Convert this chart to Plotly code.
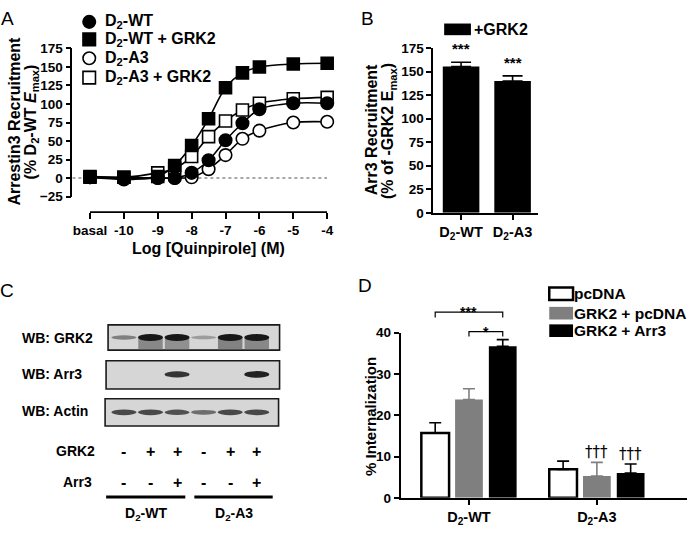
import plotly.graph_objects as go

W, H = 700, 536
def px(x): return x / W
def py(y): return 1 - y / H

FONT = "Liberation Sans, Arial, Helvetica, sans-serif"

# ---------------- Panel A data ----------------
conc_tickvals = [-11, -10, -9, -8, -7, -6, -5, -4]
conc_ticktext = ["basal", "-10", "-9", "-8", "-7", "-6", "-5", "-4"]
log_conc = [-11, -10, -9, -8.5, -8, -7.5, -7, -6.5, -6, -5, -4]
wt = [1, -2, 0, 0, 7, 24, 51, 74, 93, 101, 101]
wt_grk2 = [2, 1, 2, 17, 44, 80, 122, 142, 150, 154, 155]
a3 = [1, -1, 0, 0, 1, 12, 31, 53, 64, 75, 76]
a3_grk2 = [1, 1, 7, 13, 29, 56, 77, 92, 101, 107, 109]
a_names = ["D<sub>2</sub>-WT", "D<sub>2</sub>-WT + GRK2", "D<sub>2</sub>-A3", "D<sub>2</sub>-A3 + GRK2"]
a_ticks = [-25, 0, 25, 50, 75, 100, 125, 150, 175]

# ---------------- Panel B data ----------------
b_cats = ["D<sub>2</sub>-WT", "D<sub>2</sub>-A3"]
b_vals = [155.5, 140]
b_errs = [4.5, 5.5]
b_sig = ["***", "***"]
b_ticks = [0, 25, 50, 75, 100, 125, 150, 175]

# ---------------- Panel C data ----------------
lanes = [0, 1, 2, 3, 4, 5]
grk2_sign = ["-", "+", "+", "-", "+", "+"]
arr3_sign = ["-", "-", "+", "-", "-", "+"]
grk2_band = [0.45, 1.0, 1.0, 0.3, 1.0, 1.0]
grk2_smear = [0.0, 0.6, 0.55, 0.0, 0.65, 0.6]
arr3_band = [0.0, 0.0, 0.85, 0.0, 0.0, 0.95]
actin_band = [0.75, 0.75, 0.7, 0.55, 0.75, 0.75]
blot_labels = ["WB: GRK2", "WB: Arr3", "WB: Actin"]
group_labels = ["D<sub>2</sub>-WT", "D<sub>2</sub>-A3"]

# ---------------- Panel D data ----------------
d_cats = ["D<sub>2</sub>-WT", "D<sub>2</sub>-A3"]
d_names = ["pcDNA", "GRK2 + pcDNA", "GRK2 + Arr3"]
pcdna = [15.7, 6.9]
pcdna_err = [2.5, 2.0]
grk2_pcdna = [23.8, 5.3]
grk2_pcdna_err = [2.6, 3.3]
grk2_arr3 = [36.7, 6.0]
grk2_arr3_err = [1.6, 2.2]
d_daggers = ["", "†††"]
d_ticks = [0, 10, 20, 30, 40]

fig = go.Figure()

# ---- Panel A curves + markers
a_series = [
    (a3_grk2, "square", "white", 3),
    (wt_grk2, "square", "black", 1),
    (a3, "circle", "white", 2),
    (wt, "circle", "black", 0),
]
for vals, sym, fill, idx in a_series:
    fig.add_trace(go.Scatter(x=log_conc, y=vals, mode="lines",
                             line=dict(color="black", width=1.6, shape="spline", smoothing=0.9),
                             xaxis="x", yaxis="y", hoverinfo="skip"))
for vals, sym, fill, idx in a_series:
    fig.add_trace(go.Scatter(x=log_conc, y=vals, mode="markers", name=a_names[idx],
                             marker=dict(symbol=sym, size=12 if sym == "square" else 12.5, color=fill,
                                         line=dict(color="black", width=1.6)),
                             xaxis="x", yaxis="y", cliponaxis=False))

# Panel A legend markers (overlay pixel axis)
leg_rows = [15.3, 33.3, 52.7, 72.7]
leg_style = [("circle", "black"), ("square", "black"), ("circle", "white"), ("square", "white")]
for (sym, fill), yy in zip(leg_style, leg_rows):
    fig.add_trace(go.Scatter(x=[90], y=[yy], mode="markers",
                             marker=dict(symbol=sym, size=12.5, color=fill, line=dict(color="black", width=1.6)),
                             xaxis="x5", yaxis="y5", hoverinfo="skip", cliponaxis=False))

# ---- Panel B bars
fig.add_trace(go.Bar(x=[0, 1], y=b_vals, width=0.71, marker=dict(color="black", line=dict(width=0)),
                     error_y=dict(type="data", array=b_errs, arrayminus=[0, 0], symmetric=False,
                                  color="black", thickness=1.6, width=10),
                     xaxis="x2", yaxis="y2"))

# ---- Panel D bars
bw = 0.217
sep = 0.264
d_series = [
    (pcdna, pcdna_err, "white", "black", 2.5, -sep),
    (grk2_pcdna, grk2_pcdna_err, "#7f7f7f", "#7f7f7f", 0, 0),
    (grk2_arr3, grk2_arr3_err, "black", "black", 0, sep),
]
for vals, errs, fill, ecol, lw, off in d_series:
    fig.add_trace(go.Bar(x=[0, 1], y=vals, width=bw, offset=off - bw / 2,
                         marker=dict(color=fill, line=dict(color="black", width=lw)),
                         error_y=dict(type="data", array=errs, arrayminus=[0, 0], symmetric=False,
                                      color=ecol, thickness=1.6, width=6),
                         xaxis="x3", yaxis="y3"))

shapes = []
annotations = []

def ann(text, x, y, size=14, xanchor="center", yanchor="middle", xref="paper", yref="paper",
        angle=0, weight="bold", yshift=0, family=FONT):
    annotations.append(dict(text=text, x=x, y=y, xref=xref, yref=yref, showarrow=False,
                            xanchor=xanchor, yanchor=yanchor, textangle=angle, yshift=yshift,
                            font=dict(family=family, size=size, color="black", weight=weight)))

# Panel letters
ann("A", px(8), py(12), size=19, weight="normal")
ann("B", px(371), py(12), size=19, weight="normal")
ann("C", px(7), py(292), size=19, weight="normal")
ann("D", px(368), py(287), size=19, weight="normal")

# ---- Panel A decorations
shapes.append(dict(type="line", xref="x", yref="paper", x0=-11, x1=-4, y0=py(211), y1=py(211),
                   line=dict(color="black", width=1.6)))
shapes.append(dict(type="line", xref="x", yref="y", x0=-11.52, x1=-4, y0=0, y1=0, layer="below",
                   line=dict(color="#8a8a8a", width=1.5, dash="dot")))
ann("Arrestin3 Recruitment", px(15), py(117), size=16, angle=-90)
ann("(% D<sub>2</sub>-WT <i>E</i><sub>max</sub>)", px(32), py(118), size=16, angle=-90)
ann("Log [Quinpirole] (M)", px(210), py(248), size=16)
for name, yy in zip(a_names, leg_rows):
    ann(name, px(104), py(yy), size=16, xanchor="left")

# ---- Panel B decorations
ann("Arr3 Recruitment", px(375), py(126), size=16, angle=-90)
ann("(% of -GRK2 E<sub>max</sub>)", px(392), py(128), size=16, angle=-90)
shapes.append(dict(type="rect", xref="paper", yref="paper", x0=px(448), x1=px(475), y0=py(29), y1=py(17),
                   fillcolor="black", line=dict(width=0)))
ann("+GRK2", px(476), py(23), size=16, xanchor="left")
for i, (v, e, s) in enumerate(zip(b_vals, b_errs, b_sig)):
    ann(s, i, v + e, size=15, xref="x2", yref="y2", yanchor="bottom", yshift=3)

# ---- Panel C (western blot drawing on lane axis x4/y4)
blot_rows = [  # (label, box x0, box x1, top, bottom, band center, label y)
    (blot_labels[0], -0.597, 5.858, 327, 353, 340, 341),
    (blot_labels[1], -0.672, 5.858, 364, 393, 378, 378),
    (blot_labels[2], -0.709, 5.82, 403, 431, 417, 416),
]
def gray(v, base=214):
    g = int(round(base - 190 * v))
    return f"rgb({g},{g},{g})"

for label, bx0, bx1, top, bot, bc, ly in blot_rows:
    shapes.append(dict(type="rect", xref="x4", yref="y4", x0=bx0, x1=bx1, y0=top, y1=bot,
                       fillcolor="rgb(214,214,214)", line=dict(color="#1a1a1a", width=1.6), layer="below"))
    ann(label, px(20), py(ly), size=14, xanchor="left")
for i, v in zip(lanes, grk2_smear):
    if v > 0:
        shapes.append(dict(type="rect", xref="x4", yref="y4", x0=i - 0.46, x1=i + 0.46, y0=341, y1=352,
                           fillcolor=gray(v * 0.75), line=dict(width=0), opacity=0.9))
for row, band in zip(blot_rows, (grk2_band, arr3_band, actin_band)):
    bc = row[5]
    for i, v in zip(lanes, band):
        if v > 0:
            h = 2.5 + 4.5 * v
            shapes.append(dict(type="circle", xref="x4", yref="y4", x0=i - 0.47, x1=i + 0.47,
                               y0=bc - h / 2, y1=bc + h / 2, fillcolor=gray(v), line=dict(width=0)))
for i, s in zip(lanes, grk2_sign):
    ann(s, i, 457, size=16, xref="x4", yref="y4")
for i, s in zip(lanes, arr3_sign):
    ann(s, i, 489, size=16, xref="x4", yref="y4")
ann("GRK2", px(98), py(457), size=14, xanchor="right")
ann("Arr3", px(95), py(489), size=14, xanchor="right")
group_lines = [(-0.67, 2.31), (2.65, 5.6)]
for (g0, g1), gl in zip(group_lines, group_labels):
    shapes.append(dict(type="line", xref="x4", yref="y4", x0=g0, x1=g1, y0=504, y1=504,
                       line=dict(color="black", width=3)))
    ann(gl, (g0 + g1) / 2, 522, size=14, xref="x4", yref="y4")

# ---- Panel D decorations
ann("% Internalization", px(373), py(421), size=15, angle=-90)
d_leg = [(295, "white", 2.5), (315, "#7f7f7f", 0), (333, "black", 0)]
for (yy, fill, lw), name in zip(d_leg, d_names):
    shapes.append(dict(type="rect", xref="paper", yref="paper", x0=px(554), x1=px(578),
                       y0=py(yy + 6.5), y1=py(yy - 6.5), fillcolor=fill,
                       line=dict(color="black", width=lw)))
    ann(name, px(577), py(yy), size=15.5, xanchor="left")
# significance brackets
shapes.append(dict(type="path", xref="x3", yref="paper",
                   path=f"M {-sep},{py(319.5)} L {-sep},{py(314)} L {sep},{py(314)} L {sep},{py(319.5)}",
                   line=dict(color="black", width=1.2)))
shapes.append(dict(type="path", xref="x3", yref="paper",
                   path=f"M 0,{py(339)} L 0,{py(334)} L {sep},{py(334)} L {sep},{py(339)}",
                   line=dict(color="black", width=1.2)))
ann("***", 0, py(314), size=14, xref="x3", yanchor="middle")
ann("*", sep / 2, py(334), size=14, xref="x3", yanchor="middle")
for off, vals, errs in ((0, grk2_pcdna, grk2_pcdna_err), (sep, grk2_arr3, grk2_arr3_err)):
    for i, d in enumerate(d_daggers):
        if d:
            ann(d, i + off, vals[i] + errs[i], size=15, xref="x3", yref="y3", yanchor="bottom",
                yshift=-1, family="DejaVu Sans", weight="normal")

axis_common = dict(showgrid=False, zeroline=False, ticks="outside", tickwidth=1.6, tickcolor="black",
                   linecolor="black", linewidth=1.6)

fig.update_layout(
    width=W, height=H, margin=dict(l=0, r=0, t=0, b=0),
    paper_bgcolor="white", plot_bgcolor="rgba(0,0,0,0)", showlegend=False,
    font=dict(family=FONT, size=13, color="black", weight="bold"),
    barmode="overlay",
    xaxis=dict(axis_common, domain=[px(73), px(330)], range=[-11.52, -4], anchor="free", position=py(211),
               showline=False, tickvals=conc_tickvals, ticktext=conc_ticktext, ticklen=6,
               tickfont=dict(size=13.5)),
    yaxis=dict(axis_common, domain=[py(195), py(42.67)], range=[-25, 175], anchor="x", showline=True,
               tickvals=a_ticks, ticklen=5, tickfont=dict(size=13.5)),
    xaxis2=dict(axis_common, domain=[px(437), px(543)], range=[-0.54, 1.5], anchor="y2", showline=True,
                tickvals=[0, 1], ticktext=b_cats, ticklen=5, tickfont=dict(size=14.5)),
    yaxis2=dict(axis_common, domain=[py(211.7), py(42.3)], range=[0, 175], anchor="x2", showline=True,
                tickvals=b_ticks, ticklen=5, tickfont=dict(size=13.5)),
    xaxis3=dict(axis_common, domain=[px(404), px(693)], range=[-0.535, 1.705], anchor="y3", showline=True,
                tickvals=[0, 1], ticktext=d_cats, ticklen=5, tickfont=dict(size=14.5)),
    yaxis3=dict(axis_common, domain=[py(505), py(335)], range=[0, 40], anchor="x3", showline=True,
                tickvals=d_ticks, ticklen=5, tickfont=dict(size=13.5)),
    xaxis4=dict(domain=[px(100), px(290)], range=[-0.933, 6.157], anchor="y4", visible=False),
    yaxis4=dict(domain=[py(535), py(320)], range=[535, 320], anchor="x4", visible=False),
    xaxis5=dict(domain=[0, 1], range=[0, W], anchor="y5", visible=False),
    yaxis5=dict(domain=[0, 1], range=[H, 0], anchor="x5", visible=False),
    shapes=shapes, annotations=annotations,
)

fig.write_html("out.html", config={"displayModeBar": False},
               post_script="document.body.style.margin='0';document.body.style.padding='0';")
